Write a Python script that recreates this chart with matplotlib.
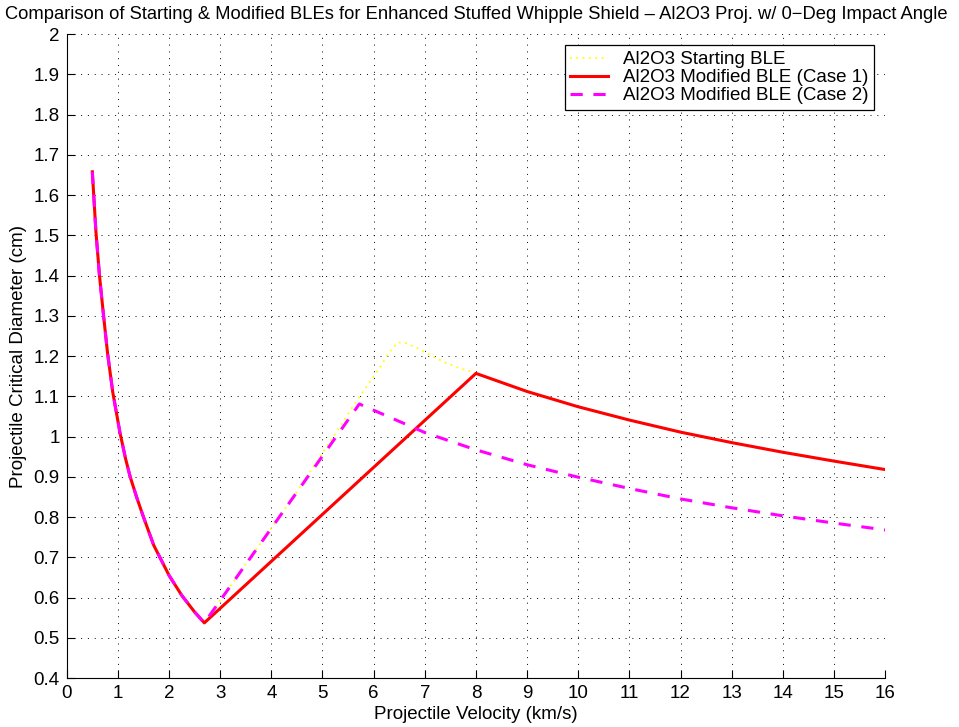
import matplotlib.pyplot as plt
from matplotlib.ticker import FormatStrFormatter

plt.rcParams['font.family'] = ['Liberation Sans', 'DejaVu Sans']

# low-velocity branch, shared by all three curves
v_low = [0.50, 0.57, 0.64, 0.72, 0.80, 0.90, 1.04, 1.15, 1.24, 1.37, 1.50, 1.70,
         1.86, 2.00, 2.25, 2.50, 2.69]
d_low = [1.658, 1.51, 1.40, 1.30, 1.205, 1.11, 1.01, 0.945, 0.90, 0.848, 0.80, 0.73,
         0.69, 0.655, 0.605, 0.564, 0.537]

# starting BLE (yellow dotted)
v_start = v_low + [3.5, 4.5, 5.68, 5.95, 6.13, 6.29, 6.47, 6.61, 6.87, 7.04, 7.36, 7.62, 8.0,
                   9, 10, 11, 12, 13, 14, 15, 16]
d_start = d_low + [0.683, 0.863, 1.091, 1.14, 1.173, 1.207, 1.234, 1.233, 1.219, 1.207, 1.186,
                   1.173, 1.157, 1.112, 1.074, 1.041, 1.011, 0.985, 0.961, 0.939, 0.918]

# modified BLE, case 1 (red)
v_case1 = v_low + [8.0, 9, 10, 11, 12, 13, 14, 15, 16]
d_case1 = d_low + [1.157, 1.112, 1.074, 1.041, 1.011, 0.985, 0.961, 0.939, 0.918]

# modified BLE, case 2 (magenta dashed)
v_case2 = v_low + [5.72, 7, 8, 9, 10, 11, 12, 13, 14, 15, 16]
d_case2 = d_low + [1.081, 1.01, 0.967, 0.930, 0.899, 0.871, 0.845, 0.823, 0.803, 0.785, 0.768]

fig = plt.figure(figsize=(9.59, 7.27), dpi=100)
ax = fig.add_axes([0.0696, 0.0674, 0.8534, 0.8856])

ax.plot(v_start, d_start, color='yellow', linestyle=(0, (1, 2.5)), linewidth=1.3,
        label='Al2O3 Starting BLE')
ax.plot(v_case1, d_case1, color='red', linewidth=2.2, label='Al2O3 Modified BLE (Case 1)')
ax.plot(v_case2, d_case2, color='magenta', linewidth=2.2, dashes=(4, 3.5),
        label='Al2O3 Modified BLE (Case 2)')

ax.set_xlim(0, 16)
ax.set_ylim(0.4, 2)
ax.set_xticks(range(0, 17))
ax.set_yticks([0.4 + 0.1 * k for k in range(17)])
ax.yaxis.set_major_formatter(FormatStrFormatter('%g'))
ax.tick_params(direction='in', length=6, width=0.8, labelsize=13.5, pad=5)

ax.spines['top'].set_visible(False)
ax.spines['right'].set_visible(False)
ax.grid(True, color='black', linestyle=(0, (1, 6)), linewidth=0.7)

ax.set_xlabel('Projectile Velocity (km/s)', fontsize=13.5, labelpad=3)
ax.set_ylabel('Projectile Critical Diameter (cm)', fontsize=13.5, labelpad=5)
ax.set_title('Comparison of Starting & Modified BLEs for Enhanced Stuffed Whipple Shield \u2013 '
             'Al2O3 Proj. w/ 0\u2212Deg Impact Angle', fontsize=13.2, pad=11)

leg = ax.legend(loc='upper right', fontsize=13.5, fancybox=False, framealpha=1,
                edgecolor='black', borderaxespad=0.6, handlelength=2.0, handletextpad=0.8,
                labelspacing=0.05, borderpad=0.3)
leg.get_frame().set_linewidth(0.9)

fig.savefig('out.png', dpi=100)
